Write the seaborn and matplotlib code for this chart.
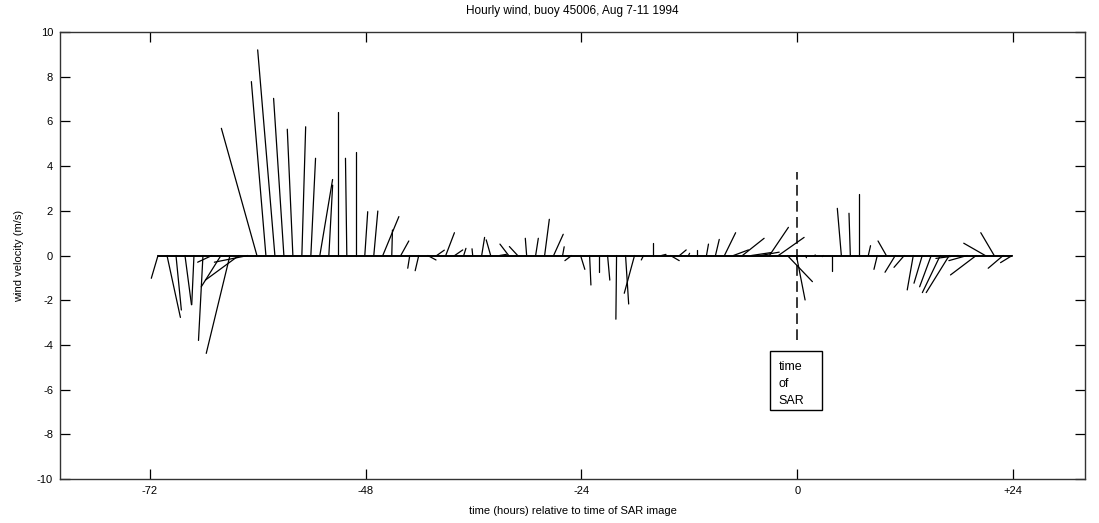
import numpy as np
import pandas as pd
import matplotlib
matplotlib.use("Agg")
import matplotlib.pyplot as plt
from matplotlib.patches import Rectangle
import seaborn as sns

# ---- data -------------------------------------------------------------
title = "Hourly wind, buoy 45006, Aug 7-11 1994"
xlabel = "time (hours) relative to time of SAR image"
ylabel = "wind velocity (m/s)"
xtick_pos = [-72, -48, -24, 0, 24]
xtick_labels = ["-72", "-48", "-24", "0", "+24"]
ytick_pos = [-10, -8, -6, -4, -2, 0, 2, 4, 6, 8, 10]

first_hour = -71.1          # time of first observation (h, relative to SAR)
n_obs = 96
hours = first_hour + np.arange(n_obs)

# east (u) and north (v) wind components, m/s
u = [-0.30, 0.60, 0.24, 0.29, -0.10, -0.20, -0.64, -0.88, -1.06, -1.50,
     -1.50, -1.59, -0.65, -0.77, -0.46, -0.25, 0.17, 0.21, 0.57, 0.17,
     0.00, -0.06, 0.00, 0.13, 0.18, 0.72, 0.03, 0.36, -0.09, -0.16,
     0.37, 0.34, 0.39, 0.36, 0.10, -0.03, 0.13, -0.20, 0.30, -0.39,
     -0.37, -0.06, 0.12, 0.21, 0.43, 0.07, -0.30, 0.19, 0.06, 0.00,
     0.10, -0.03, 0.14, -0.46, -0.10, 0.00, 0.20, 0.39, 0.30, 0.05,
     0.00, 0.09, 0.17, 0.50, 0.67, 0.97, 0.87, 0.84, 0.85, 1.15,
     1.12, 0.39, 0.05, 0.05, -0.05, 0.00, -0.18, -0.06, 0.00, 0.10,
     -0.15, -0.37, -0.46, -0.46, -0.27, -0.37, -0.52, -0.80, -1.03, -1.00,
     -0.82, -1.15, -0.96, -0.60, -0.67, -0.52]
v = [-1.02, -2.77, -2.44, -2.20, -2.20, -3.80, -0.30, -1.40, -4.38, -1.10,
     -0.30, 5.69, 7.78, 9.20, 7.03, 5.65, 5.76, 4.35, 3.40, 3.15,
     6.43, 4.35, 4.64, 1.96, 1.99, 1.74, 1.14, 0.65, -0.57, -0.68,
     -0.20, 0.24, 1.02, 0.25, 0.32, 0.30, 0.81, 0.70, 0.05, 0.51,
     0.40, 0.77, 0.77, 1.62, 0.95, 0.39, -0.23, -0.62, -1.32, -0.75,
     -1.10, -2.85, -2.17, -1.69, -0.20, 0.56, 0.05, -0.23, 0.25, 0.10,
     0.25, 0.51, 0.72, 1.02, 0.25, 0.77, 0.13, 0.15, 1.26, 0.81,
     -1.17, -1.99, -0.10, 0.02, -0.05, -0.69, 2.11, 1.89, 2.75, 0.44,
     -0.62, 0.65, -0.75, -0.53, -1.54, -1.24, -1.40, -1.66, -1.66, -0.13,
     -0.23, -0.87, 0.55, 1.02, -0.57, -0.32]

sar_marker_range = [-3.78, 3.75]   # dashed line at t = 0
box_text = "time\nof\nSAR"

# ---- layout / style ----------------------------------------------------
HOURS_PER_MS = 2.486   # horizontal stick scale so sticks keep true angles
W, H, DPI = 1099, 523, 100

sns.set_theme(style="white")
plt.rcParams["font.family"] = ["Liberation Sans", "DejaVu Sans"]
plt.rcParams["axes.unicode_minus"] = False

fig = plt.figure(figsize=(W / DPI, H / DPI), dpi=DPI)
ax = fig.add_axes([60 / W, 1 - 479 / H, 1025 / W, 447 / H])

# long-form table: one stick = two points (base, tip)
rows = []
for i, (t, uu, vv) in enumerate(zip(hours, u, v)):
    rows.append({"stick": i, "x": t, "y": 0.0})
    rows.append({"stick": i, "x": t + uu * HOURS_PER_MS, "y": vv})
df = pd.DataFrame(rows)

sns.lineplot(data=df, x="x", y="y", units="stick", estimator=None,
             sort=False, color="black", linewidth=0.9, ax=ax, legend=False)

# baseline
base = pd.DataFrame({"x": [hours[0], hours[-1]], "y": [0.0, 0.0]})
sns.lineplot(data=base, x="x", y="y", color="black", linewidth=1.4, ax=ax,
             estimator=None, sort=False)

# SAR time marker
ax.plot([0, 0], sar_marker_range, color="black", linewidth=1.1,
        dashes=(7, 3.5))
ax.add_patch(Rectangle((-3.0, -6.91), 5.7, 2.65, fill=False,
                       edgecolor="black", linewidth=1.0, zorder=5))
ax.text(-2.05, -4.72, box_text, ha="left", va="top", fontsize=9,
        linespacing=1.55, color="black")

ax.set_xlim(-82, 32)
ax.set_ylim(-10, 10)
ax.set_xticks(xtick_pos)
ax.set_xticklabels(xtick_labels)
ax.set_yticks(ytick_pos)
ax.tick_params(direction="in", length=7, width=0.9, top=True, right=True,
               bottom=True, left=True, labelsize=8, colors="black", pad=5)
for s in ax.spines.values():
    s.set_color("#333333")
    s.set_linewidth(1.0)
    s.set_visible(True)

ax.set_title(title, fontsize=8.5, pad=13, color="black")
ax.set_xlabel(xlabel, fontsize=8, labelpad=7, color="black")
ax.set_ylabel(ylabel, fontsize=8, labelpad=9, color="black")

fig.savefig("out.png", dpi=DPI, facecolor="white")
